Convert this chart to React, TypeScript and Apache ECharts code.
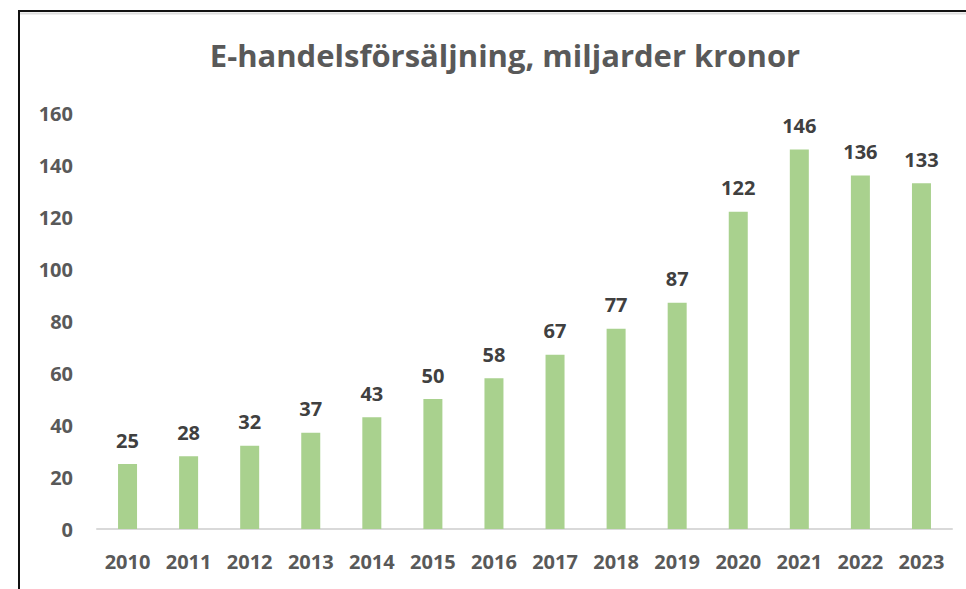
import React, { useEffect, useRef } from "react";
import * as echarts from "echarts";

const titleText = "E-handelsförsäljning, miljarder kronor";
const years = ["2010", "2011", "2012", "2013", "2014", "2015", "2016", "2017", "2018", "2019", "2020", "2021", "2022", "2023"];
const sales = [25, 28, 32, 37, 43, 50, 58, 67, 77, 87, 122, 146, 136, 133];

export default function App() {
  const ref = useRef<HTMLDivElement>(null);
  useEffect(() => {
    if (!ref.current) return;
    const chart = echarts.init(ref.current, null, { renderer: "svg" });
    const font = "'Open Sans', sans-serif";
    chart.setOption({
      animation: false,
      backgroundColor: "#ffffff",
      title: {
        text: titleText,
        left: 500,
        top: 34,
        textAlign: "center",
        textStyle: { fontFamily: font, fontWeight: "bold", fontSize: 31, color: "#595959" },
      },
      graphic: [
        { type: "rect", shape: { x: 19, y: 11, width: 1200, height: 1200 }, style: { fill: "none", stroke: "#111", lineWidth: 2 }, silent: true },
        { type: "line", shape: { x1: 20, y1: 13.5, x2: 966, y2: 13.5 }, style: { stroke: "#ddd", lineWidth: 2 }, silent: true },
      ],
      grid: { left: 97, right: 14, top: 113, bottom: 60 },
      xAxis: {
        type: "category",
        data: years,
        axisLine: { lineStyle: { color: "#d9d9d9", width: 2 } },
        axisTick: { show: false },
        axisLabel: { fontFamily: font, fontWeight: "bold", fontSize: 20, color: "#595959", margin: 22 },
      },
      yAxis: {
        type: "value",
        min: 0,
        max: 160,
        interval: 20,
        splitLine: { show: false },
        axisLine: { show: false },
        axisTick: { show: false },
        axisLabel: { fontFamily: font, fontWeight: "bold", fontSize: 20, color: "#595959", margin: 24 },
      },
      series: [
        {
          type: "bar",
          data: sales,
          barWidth: 19,
          itemStyle: { color: "#a9d18e" },
          label: {
            show: true,
            position: "top",
            distance: 14,
            fontFamily: font,
            fontWeight: "bold",
            fontSize: 20,
            color: "#404040",
          },
        },
      ],
    });
    return () => chart.dispose();
  }, []);
  return <div ref={ref} style={{ position: "fixed", left: 0, top: 0, width: 966, height: 589 }} />;
}
